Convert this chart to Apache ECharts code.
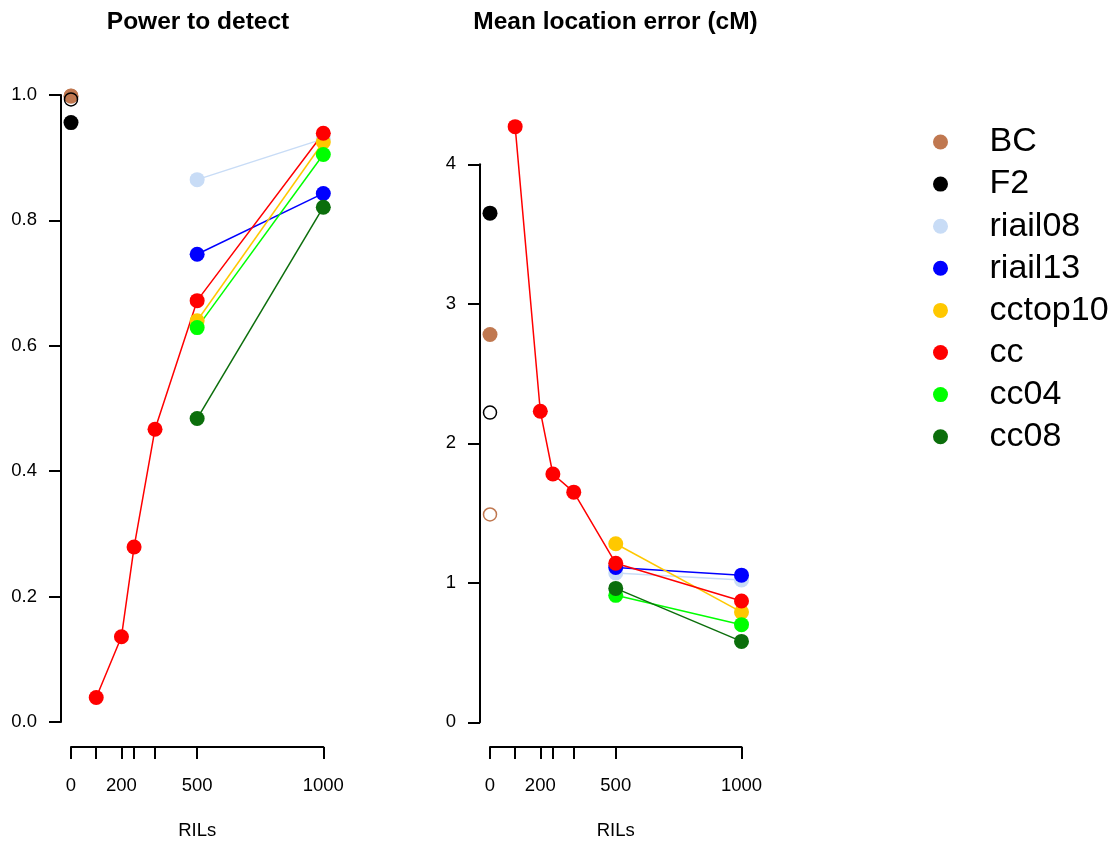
<!DOCTYPE html>
<html><head><meta charset="utf-8">
<script src="https://cdn.jsdelivr.net/npm/echarts@6/dist/echarts.min.js"></script>
<style>html,body{margin:0;background:#fff}#c{width:1117px;height:842px}</style>
</head><body><div id="c"></div>
<script>
// ---- data ----
const methods = ['BC', 'F2', 'riail08', 'riail13', 'cctop10', 'cc', 'cc04', 'cc08'];
const methodColors = ['#c07850', '#000000', '#c8dcf6', '#0000ff', '#ffc800', '#ff0000', '#00ff00', '#0b6e0b'];
const xTickValues = [0, 100, 200, 250, 333, 500, 1000];
const xLabelValues = [0, 200, 500, 1000];
const powerTicks = [0, 0.2, 0.4, 0.6, 0.8, 1.0];
const errorTicks = [0, 1, 2, 3, 4];

const nZero = [0];
const nCC = [100, 200, 250, 333, 500, 1000];
const nSub = [500, 1000];

// Power to detect
const powerBC = [0.998];
const powerF2 = [0.956];
const powerRiail08 = [0.865, 0.930];
const powerRiail13 = [0.746, 0.843];
const powerCctop10 = [0.640, 0.925];
const powerCC = [0.039, 0.136, 0.279, 0.467, 0.672, 0.939];
const powerCC04 = [0.629, 0.905];
const powerCC08 = [0.484, 0.821];
const powerBCopen = [0.999];
const powerF2open = [0.993];

// Mean location error (cM)
const errBC = [2.78];
const errF2 = [3.65];
const errRiail08 = [1.07, 1.02];
const errRiail13 = [1.11, 1.055];
const errCctop10 = [1.28, 0.79];
const errCC = [4.27, 2.23, 1.78, 1.65, 1.14, 0.87];
const errCC04 = [0.91, 0.70];
const errCC08 = [0.96, 0.58];
const errBCopen = [1.49];
const errF2open = [2.22];

// ---- chart ----
const FONT = '"Liberation Sans", Arial, sans-serif';
const pairs = (xs, ys) => xs.map((x, i) => [x, ys[i]]);

const panels = [
  { xs: [nZero, nZero, nSub, nSub, nSub, nCC, nSub, nSub],
    ys: [powerBC, powerF2, powerRiail08, powerRiail13, powerCctop10, powerCC, powerCC04, powerCC08],
    open: [[powerBCopen, 0], [powerF2open, 1]] },
  { xs: [nZero, nZero, nSub, nSub, nSub, nCC, nSub, nSub],
    ys: [errBC, errF2, errRiail08, errRiail13, errCctop10, errCC, errCC04, errCC08],
    open: [[errBCopen, 0], [errF2open, 1]] }
];

const series = [];
panels.forEach((p, gi) => {
  methods.forEach((m, k) => {
    series.push({
      type: 'line', name: m, xAxisIndex: gi, yAxisIndex: gi,
      data: pairs(p.xs[k], p.ys[k]),
      symbol: 'circle', symbolSize: 15, clip: false,
      lineStyle: { color: methodColors[k], width: 1.5 },
      itemStyle: { color: methodColors[k], borderWidth: 0 },
      emphasis: { disabled: true }
    });
  });
  p.open.forEach(([vals, k]) => {
    series.push({
      type: 'line', name: methods[k] + ' (open)', xAxisIndex: gi, yAxisIndex: gi,
      data: pairs(nZero, vals),
      symbol: 'circle', symbolSize: 13, clip: false,
      lineStyle: { width: 0 },
      itemStyle: { color: 'rgba(0,0,0,0)', borderColor: methodColors[k], borderWidth: 1.5 },
      emphasis: { disabled: true }
    });
  });
});

const axisLine = { show: true, onZero: false, lineStyle: { color: '#000', width: 2 } };
const xAxisCommon = {
  type: 'value', min: 0, max: 1000, offset: 25,
  axisLine, splitLine: { show: false },
  axisTick: { show: true, length: 12, customValues: xTickValues, lineStyle: { color: '#000', width: 2 } },
  axisLabel: { customValues: xLabelValues, margin: 29, fontSize: 18.5, color: '#000', fontFamily: FONT, formatter: v => String(v) },
  name: 'RILs', nameLocation: 'middle', nameGap: 74,
  nameTextStyle: { fontSize: 18.5, color: '#000', fontFamily: FONT }
};
const yAxisCommon = {
  type: 'value', offset: 10, axisLine, splitLine: { show: false },
  axisTick: { show: true, length: 12, lineStyle: { color: '#000', width: 2 } },
  axisLabel: { margin: 24, fontSize: 18.5, color: '#000', fontFamily: FONT }
};

const option = {
  animation: false,
  backgroundColor: '#fff',
  grid: [
    { left: 71, top: 95, width: 252.3, height: 627, outerBoundsMode: 'none', containLabel: false },
    { left: 490, top: 164.3, width: 251.5, height: 558, outerBoundsMode: 'none', containLabel: false }
  ],
  xAxis: [Object.assign({ gridIndex: 0 }, xAxisCommon), Object.assign({ gridIndex: 1 }, xAxisCommon, { offset: 24.7 })],
  yAxis: [
    Object.assign({ gridIndex: 0, min: powerTicks[0], max: powerTicks[powerTicks.length - 1], interval: 0.2 }, yAxisCommon,
      { axisLabel: Object.assign({}, yAxisCommon.axisLabel, { formatter: v => v.toFixed(1) }) }),
    Object.assign({ gridIndex: 1, min: errorTicks[0], max: errorTicks[errorTicks.length - 1], interval: 1 }, yAxisCommon,
      { axisLabel: Object.assign({}, yAxisCommon.axisLabel, { formatter: v => String(v) }) })
  ],
  legend: {
    data: methods, orient: 'vertical', left: 928, top: 120,
    icon: 'circle', itemWidth: 88, itemHeight: 15, itemGap: 8.1, symbolKeepAspect: true,
    selectedMode: false,
    textStyle: { fontSize: 34, lineHeight: 33, color: '#000', fontFamily: FONT }
  },
  graphic: [
    { type: 'text', x: 198, y: 22, style: { text: 'Power to detect', textAlign: 'center', textVerticalAlign: 'middle', font: 'bold 24.5px ' + FONT, fill: '#000' } },
    { type: 'text', x: 615.5, y: 22, style: { text: 'Mean location error (cM)', textAlign: 'center', textVerticalAlign: 'middle', font: 'bold 24.5px ' + FONT, fill: '#000' } }
  ],
  series
};

echarts.init(document.getElementById('c')).setOption(option);
</script>
</body></html>
